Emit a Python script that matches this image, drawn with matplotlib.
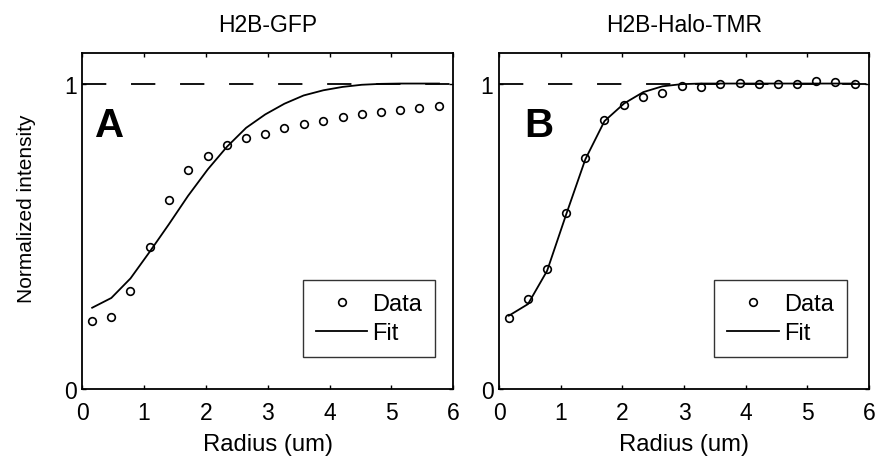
import numpy as np
import matplotlib
matplotlib.use("Agg")
import matplotlib.pyplot as plt

plt.rcParams['font.family'] = ['Liberation Sans', 'DejaVu Sans']
plt.rcParams['lines.scale_dashes'] = False

# radius of each ring (um)
radius = [0.16, 0.47, 0.78, 1.09, 1.40, 1.71, 2.03, 2.34, 2.65, 2.96,
          3.27, 3.58, 3.90, 4.21, 4.52, 4.83, 5.14, 5.45, 5.77]

# panel A: H2B-GFP
gfp_data = [0.221, 0.237, 0.320, 0.466, 0.618, 0.716, 0.764, 0.800, 0.821, 0.836,
            0.856, 0.867, 0.878, 0.890, 0.899, 0.906, 0.913, 0.920, 0.927]
gfp_fit = [0.266, 0.298, 0.362, 0.449, 0.539, 0.632, 0.719, 0.793, 0.855, 0.899,
           0.934, 0.961, 0.978, 0.989, 0.996, 0.999, 1.0, 1.0, 1.0]

# panel B: H2B-Halo-TMR
halo_data = [0.232, 0.295, 0.392, 0.577, 0.757, 0.880, 0.931, 0.955, 0.970, 0.993,
             0.988, 0.999, 1.001, 0.999, 0.999, 0.999, 1.007, 1.005, 0.999]
halo_fit = [0.240, 0.278, 0.387, 0.572, 0.752, 0.877, 0.935, 0.972, 0.991, 0.998,
            1.0, 1.0, 1.0, 1.0, 1.0, 1.0, 1.0, 1.0, 1.0]

titles = ["H2B-GFP", "H2B-Halo-TMR"]
letters = ["A", "B"]
xticks = [0, 1, 2, 3, 4, 5, 6]
yticks = [0, 1]

fig = plt.figure(figsize=(8.77, 4.6), dpi=100)
ax1 = fig.add_axes([0.0938, 0.1522, 0.4230, 0.7304])
ax2 = fig.add_axes([0.5690, 0.1522, 0.4219, 0.7304])

panels = [(ax1, gfp_data, gfp_fit, 0.035, (0.951, 0.094)),
          (ax2, halo_data, halo_fit, 0.068, (0.940, 0.094))]

for i, (ax, d, f, lx, legpos) in enumerate(panels):
    ax.axhline(1, color='k', lw=1.3, linestyle=(0, (17.5, 17.8)), zorder=1)
    ax.plot(radius, d, 'o', mfc='none', mec='k', ms=5.5, mew=1.2, label='Data', zorder=3)
    ax.plot(radius, f, '-', color='k', lw=1.3, label='Fit', zorder=2)
    ax.set_xlim(0, 6)
    ax.set_ylim(0, 1.1)
    ax.set_xticks(xticks)
    ax.set_yticks(yticks)
    ax.tick_params(direction='in', length=3, width=1.0, top=True, right=True,
                   labelsize=16.5, colors='k')
    ax.tick_params(axis='x', pad=9)
    ax.tick_params(axis='y', pad=4)
    for s in ax.spines.values():
        s.set_linewidth(1.3)
    ax.set_title(titles[i], fontsize=16.5, pad=16)
    ax.set_xlabel("Radius (um)", fontsize=17.2, labelpad=6)
    ax.text(lx, 0.752, letters[i], transform=ax.transAxes, fontsize=29,
            fontweight='bold', ha='left', va='baseline')
    leg = ax.legend(loc='lower right', bbox_to_anchor=legpos, borderaxespad=0,
                    fontsize=17, fancybox=False, framealpha=1, edgecolor='0.2',
                    borderpad=0.55, handlelength=2.2, handletextpad=0.2,
                    labelspacing=0.3)
    leg.get_frame().set_linewidth(1.0)

ax1.set_ylabel("Normalized intensity", fontsize=15)
ax1.yaxis.set_label_coords(-0.125, 0.54)

fig.savefig("out.png", dpi=100)
